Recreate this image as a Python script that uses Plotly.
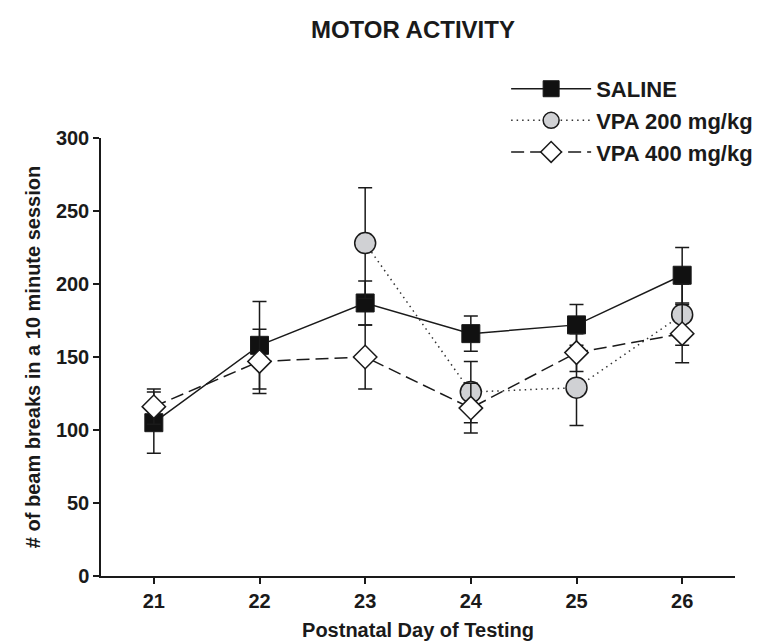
import plotly.graph_objects as go

# ---- data ----
days = [21, 22, 23, 24, 25, 26]
saline = [105, 158, 187, 166, 172, 206]
saline_err = [21, 30, 15, 12, 14, 19]

vpa200_days = [23, 24, 25, 26]
vpa200 = [228, 126, 129, 179]
vpa200_err = [38, 21, 26, 21]

vpa400 = [116, 147, 150, 115, 153, 166]
vpa400_err = [12, 22, 22, 17, 13, 20]

y_ticks = [0, 50, 100, 150, 200, 250, 300]
x_ticks = [21, 22, 23, 24, 25, 26]

FONT = "Liberation Sans, Arial, Helvetica, sans-serif"
INK = "#1a1a1a"

fig = go.Figure()

fig.add_trace(go.Scatter(
    x=days, y=saline, name="SALINE", mode="lines+markers",
    line=dict(color=INK, width=1.5, dash="solid"),
    marker=dict(symbol="square", size=18, color="#111111",
                line=dict(color=INK, width=1)),
    error_y=dict(type="data", array=saline_err, visible=True,
                 color=INK, thickness=1.5, width=7),
))

fig.add_trace(go.Scatter(
    x=vpa200_days, y=vpa200, name="VPA 200 mg/kg", mode="lines+markers",
    line=dict(color="#333333", width=1.5, dash="1.5px,4px"),
    marker=dict(symbol="circle", size=21, color="#d0d1d4",
                line=dict(color=INK, width=1.5)),
    error_y=dict(type="data", array=vpa200_err, visible=True,
                 color=INK, thickness=1.5, width=7),
))

fig.add_trace(go.Scatter(
    x=days, y=vpa400, name="VPA 400 mg/kg", mode="lines+markers",
    line=dict(color=INK, width=1.5, dash="13px,6px"),
    marker=dict(symbol="diamond", size=18, color="white",
                line=dict(color=INK, width=1.5)),
    error_y=dict(type="data", array=vpa400_err, visible=True,
                 color=INK, thickness=1.5, width=7),
))

fig.update_layout(
    width=766, height=642,
    margin=dict(l=93, r=39, t=130, b=69),
    paper_bgcolor="white", plot_bgcolor="white",
    font=dict(family=FONT, color=INK, size=20, weight="bold"),
    title=dict(text="MOTOR ACTIVITY", x=0.492, xref="paper", xanchor="center",
               y=1 - 22 / 642, yref="container", yanchor="middle",
               font=dict(size=24, family=FONT, weight="bold", color=INK)),
    showlegend=True,
    legend=dict(x=0.639, y=1.16, xanchor="left", yanchor="top",
                bgcolor="rgba(0,0,0,0)", itemwidth=80,
                font=dict(size=22, family=FONT, weight="bold", color=INK)),
)

fig.update_xaxes(
    range=[20.5, 26.5], tickmode="array", tickvals=x_ticks,
    ticktext=[str(t) for t in x_ticks],
    showline=True, linecolor=INK, linewidth=1.5,
    ticks="outside", ticklen=6, tickwidth=1.5, tickcolor=INK,
    showgrid=False, zeroline=False,
    tickfont=dict(size=20, family=FONT, weight="bold", color=INK),
    title=dict(text="Postnatal Day of Testing", standoff=12,
               font=dict(size=20, family=FONT, weight="bold", color=INK)),
)

fig.update_yaxes(
    range=[0, 300], tickmode="array", tickvals=y_ticks,
    showline=True, linecolor=INK, linewidth=1.5,
    ticks="outside", ticklen=6, tickwidth=1.5, tickcolor=INK,
    showgrid=False, zeroline=False,
    tickfont=dict(size=20, family=FONT, weight="bold", color=INK),
    title=dict(text="# of beam breaks in a 10 minute session", standoff=10,
               font=dict(size=20, family=FONT, weight="bold", color=INK)),
)

fig.write_html("out.html")
